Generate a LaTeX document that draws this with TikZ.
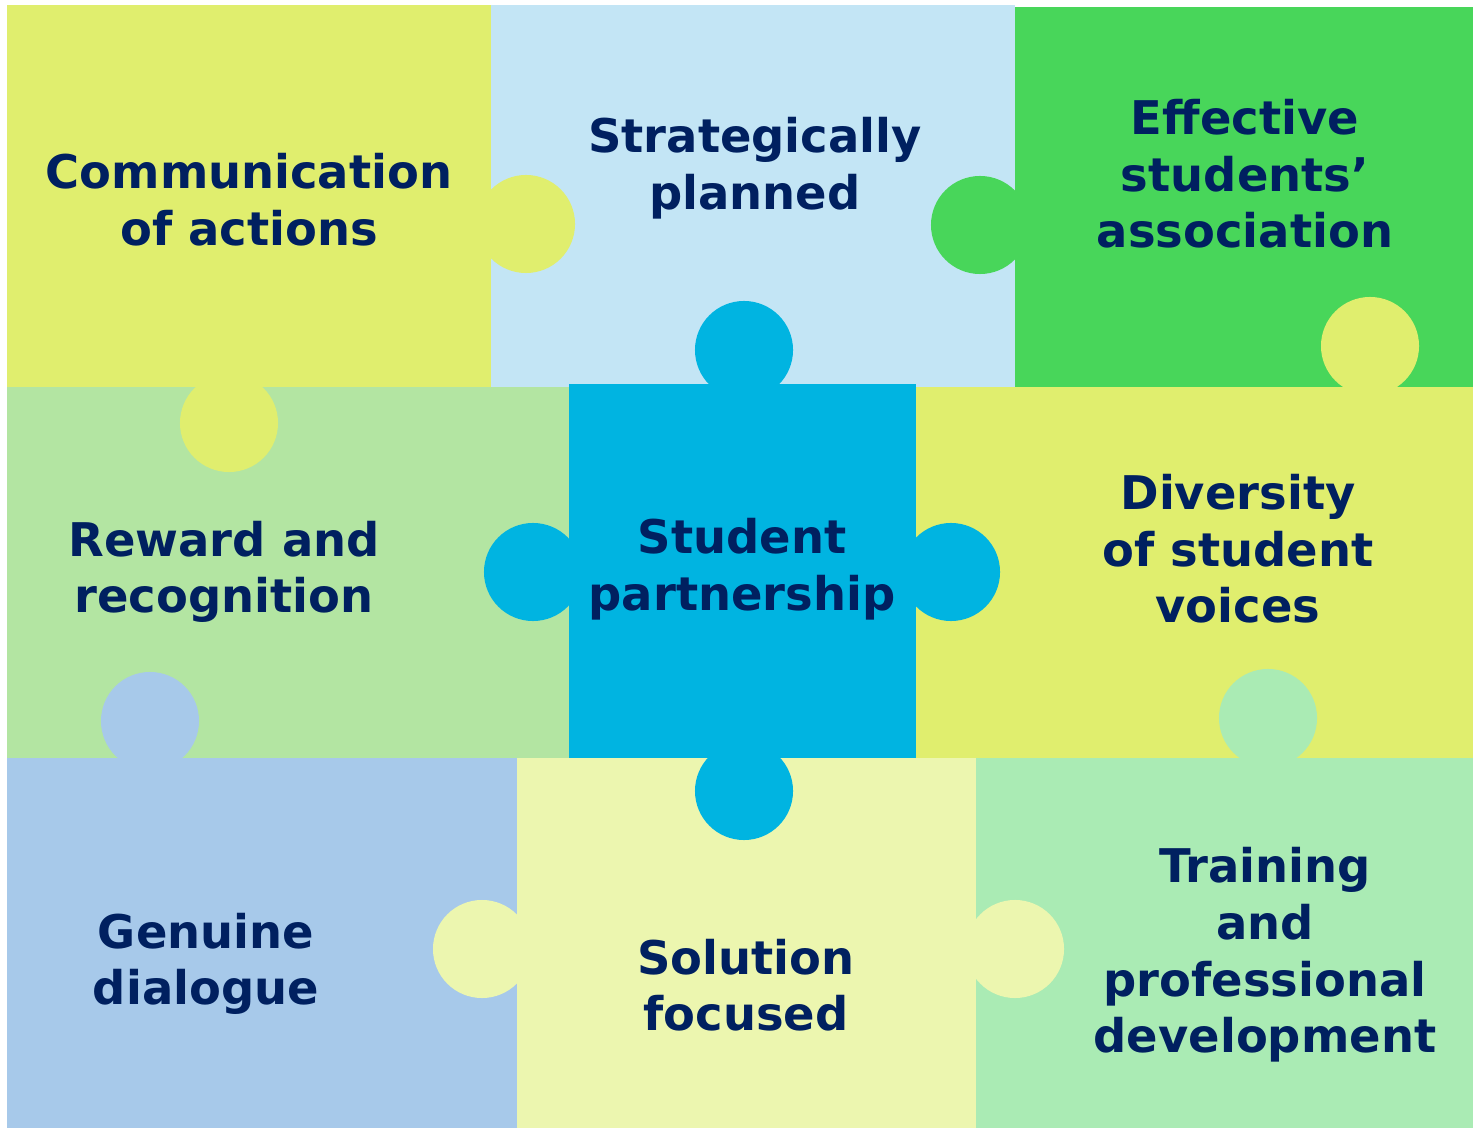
\documentclass[tikz,border=0pt]{standalone}
\usepackage{fontspec}
\setmainfont{DejaVu Sans}
\definecolor{pyellow}{RGB}{224,238,110}
\definecolor{psky}{RGB}{195,229,245}
\definecolor{pgreen}{RGB}{72,214,90}
\definecolor{pmint}{RGB}{179,229,162}
\definecolor{pcyan}{RGB}{0,180,225}
\definecolor{pblue}{RGB}{167,201,234}
\definecolor{pcream}{RGB}{236,246,175}
\definecolor{pseafoam}{RGB}{170,235,180}
\definecolor{ptext}{RGB}{0,32,96}
\tikzset{
  lbl/.style={text=ptext,font=\bfseries\fontsize{13.2}{16.1}\selectfont,align=center,inner sep=0pt},
  tab/.style={radius=0.49cm}
}

\begin{document}
\begin{tikzpicture}[x=0.01cm,y=-0.01cm]
  \fill[white] (0,0) rectangle (1473,1128);
  % top row
  \fill[pyellow] (7,5) rectangle (491,387);
  \fill[psky] (491,5) rectangle (1015,387);
  \fill[pgreen] (1015,7) rectangle (1473,387);
  % middle row
  \fill[pmint] (7,387) rectangle (569,758);
  \fill[pyellow] (916,387) rectangle (1473,758);
  % bottom row
  \fill[pblue] (7,758) rectangle (517,1128);
  \fill[pcream] (517,758) rectangle (976,1128);
  \fill[pseafoam] (976,758) rectangle (1473,1128);
  % tabs of the outer pieces
  \fill[pyellow] (526,224) circle[tab];
  \fill[pyellow] (229,423) circle[tab];
  \fill[pgreen] (980,225) circle[tab];
  \fill[pyellow] (1370,346) circle[tab];
  \fill[pblue] (150,721) circle[tab];
  \fill[pseafoam] (1268,718) circle[tab];
  \fill[pcream] (482,949) circle[tab];
  \fill[pcream] (1015,949) circle[tab];
  % centre piece
  \fill[pcyan] (569,384) rectangle (916,758);
  \foreach \p in {(744,350),(533,572),(951,572),(744,791)}
    \fill[pcyan] \p circle[tab];

  \node[lbl] (comm) at (249,200) {Communication\\of actions};
  \node[lbl] (strat) at (755,168) {Strategically\\planned};
  \node[lbl] (assoc) at (1245,174) {Effective\\students’\\association};
  \node[lbl] (reward) at (224,572) {Reward and\\recognition};
  \node[lbl] (partner) at (742,569) {Student\\partnership};
  \node[lbl] (divers) at (1238,549) {Diversity\\of student\\voices};
  \node[lbl] (dialog) at (206,964) {Genuine\\dialogue};
  \node[lbl] (solut) at (746,985) {Solution\\focused};
  \node[lbl] (train) at (1265,955) {Training\\and\\professional\\development};
\end{tikzpicture}
\end{document}
